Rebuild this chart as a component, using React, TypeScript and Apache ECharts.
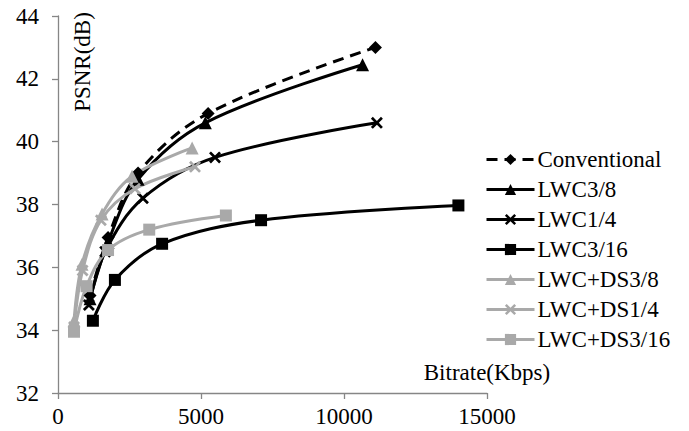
import React, { useEffect, useRef } from "react";
import * as echarts from "echarts";

const FONT = "'Liberation Serif', 'Times New Roman', serif";

const seriesNames = [
  "Conventional",
  "LWC3/8",
  "LWC1/4",
  "LWC3/16",
  "LWC+DS3/8",
  "LWC+DS1/4",
  "LWC+DS3/16",
];

const convX = [1120, 1750, 2800, 5250, 11100];
const convY = [35.1, 36.95, 39.0, 40.9, 43.0];
const lwc38X = [1120, 1750, 2800, 5150, 10650];
const lwc38Y = [35.0, 36.8, 38.8, 40.6, 42.45];
const lwc14X = [1080, 1650, 2970, 5490, 11150];
const lwc14Y = [34.8, 36.5, 38.2, 39.5, 40.6];
const lwc316X = [1220, 1990, 3640, 7100, 14000];
const lwc316Y = [34.3, 35.6, 36.75, 37.5, 37.97];
const ds38X = [560, 840, 1540, 2590, 4690];
const ds38Y = [34.3, 36.1, 37.7, 38.9, 39.8];
const ds14X = [560, 860, 1500, 2690, 4790];
const ds14Y = [34.1, 35.9, 37.5, 38.5, 39.2];
const ds316X = [560, 1000, 1750, 3190, 5870];
const ds316Y = [33.95, 35.4, 36.55, 37.2, 37.65];

const xTicks = [0, 5000, 10000, 15000];
const yTicks = [32, 34, 36, 38, 40, 42, 44];

const CROSS =
  "path://M0,1.6 L1.6,0 L5,3.4 L8.4,0 L10,1.6 L6.6,5 L10,8.4 L8.4,10 L5,6.6 L1.6,10 L0,8.4 L3.4,5 Z";

const BLACK = "#000000";
const GRAY = "#a9a9a9";

function pairs(xs: number[], ys: number[]) {
  return xs.map((x, i) => [x, ys[i]]);
}

export default function App() {
  const ref = useRef<HTMLDivElement>(null);
  useEffect(() => {
    if (!ref.current) return;
    const chart = echarts.init(ref.current, undefined, { renderer: "svg" });
    const mk = (
      name: string,
      xs: number[],
      ys: number[],
      color: string,
      symbol: string,
      size: number,
      dashed = false
    ) => ({
      name,
      type: "line",
      data: pairs(xs, ys),
      smooth: 0.35,
      symbol,
      symbolSize: size,
      showAllSymbol: true,
      lineStyle: { color, width: 3, type: dashed ? [11, 7] : "solid" },
      itemStyle: { color, borderWidth: 0 },
      emphasis: { disabled: true },
    });
    chart.setOption({
      animation: false,
      backgroundColor: "#ffffff",
      grid: { left: 58, right: 202, top: 16, bottom: 38 },
      legend: {
        orient: "vertical",
        left: 485,
        top: 148,
        padding: 0,
        itemWidth: 48,
        itemHeight: 14,
        itemGap: 7,
        data: seriesNames,
        lineStyle: { width: 3 },
        textStyle: { fontFamily: FONT, fontSize: 23, color: "#000", padding: [0, 0, 0, -2] },
      },
      xAxis: {
        type: "value",
        min: 0,
        max: 15000,
        interval: 5000,
        splitLine: { show: false },
        axisLine: { lineStyle: { color: "#868686", width: 1.3 } },
        axisTick: { show: true, length: 6, lineStyle: { color: "#868686", width: 1.3 } },
        axisLabel: {
          fontFamily: FONT,
          fontSize: 23,
          color: "#000",
          margin: 12,
          formatter: (v: number) => (xTicks.includes(v) ? String(v) : ""),
        },
      },
      yAxis: {
        type: "value",
        min: 32,
        max: 44,
        interval: 2,
        splitLine: { show: false },
        axisLine: { show: true, lineStyle: { color: "#868686", width: 1.3 } },
        axisTick: { show: true, length: 6, lineStyle: { color: "#868686", width: 1.3 } },
        axisLabel: {
          fontFamily: FONT,
          fontSize: 23,
          color: "#000",
          margin: 19,
          formatter: (v: number) => (yTicks.includes(v) ? String(v) : ""),
        },
      },
      graphic: [
        {
          type: "text",
          x: 82,
          y: 62,
          rotation: Math.PI / 2,
          style: {
            text: "PSNR(dB)",
            fontFamily: FONT,
            fontSize: 23,
            fill: "#000",
            align: "center",
            verticalAlign: "middle",
          },
        },
        {
          type: "text",
          x: 487,
          y: 372,
          style: {
            text: "Bitrate(Kbps)",
            fontFamily: FONT,
            fontSize: 23,
            fill: "#000",
            align: "center",
            verticalAlign: "middle",
          },
        },
      ],
      series: [
        mk(seriesNames[0], convX, convY, BLACK, "diamond", 13, true),
        mk(seriesNames[1], lwc38X, lwc38Y, BLACK, "triangle", 13),
        mk(seriesNames[2], lwc14X, lwc14Y, BLACK, CROSS, 12),
        mk(seriesNames[3], lwc316X, lwc316Y, BLACK, "rect", 12),
        mk(seriesNames[4], ds38X, ds38Y, GRAY, "triangle", 13),
        mk(seriesNames[5], ds14X, ds14Y, GRAY, CROSS, 12),
        mk(seriesNames[6], ds316X, ds316Y, GRAY, "rect", 12),
      ],
    });
    return () => chart.dispose();
  }, []);
  return (
    <div
      ref={ref}
      style={{ position: "absolute", left: 0, top: 0, width: 689, height: 431 }}
    />
  );
}
